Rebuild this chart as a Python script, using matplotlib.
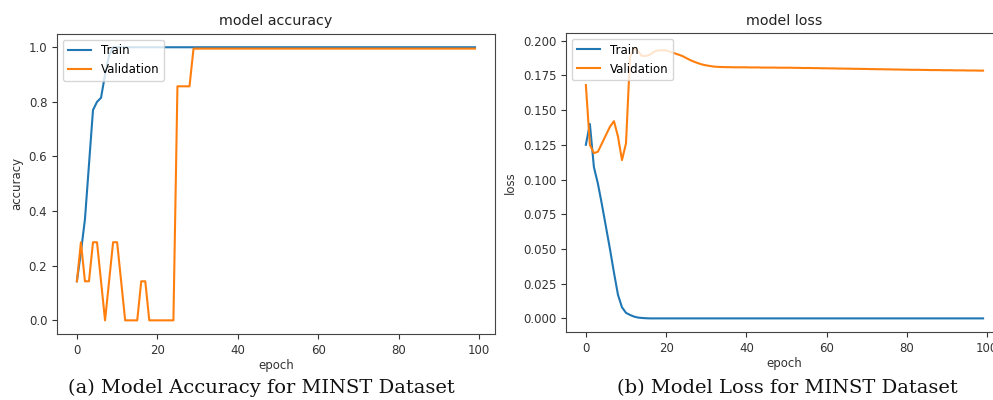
import matplotlib
matplotlib.use("Agg")
import matplotlib.pyplot as plt

# training history, one value per epoch (100 epochs)
train_acc = [0.143, 0.25, 0.37, 0.57, 0.77, 0.80, 0.815, 0.90, 0.97, 1.0,
             1.0, 1.0, 1.0, 1.0, 1.0, 1.0, 1.0, 1.0, 1.0, 1.0,
             1.0, 1.0, 1.0, 1.0, 1.0, 1.0, 1.0, 1.0, 1.0, 1.0,
             1.0, 1.0, 1.0, 1.0, 1.0, 1.0, 1.0, 1.0, 1.0, 1.0,
             1.0, 1.0, 1.0, 1.0, 1.0, 1.0, 1.0, 1.0, 1.0, 1.0,
             1.0, 1.0, 1.0, 1.0, 1.0, 1.0, 1.0, 1.0, 1.0, 1.0,
             1.0, 1.0, 1.0, 1.0, 1.0, 1.0, 1.0, 1.0, 1.0, 1.0,
             1.0, 1.0, 1.0, 1.0, 1.0, 1.0, 1.0, 1.0, 1.0, 1.0,
             1.0, 1.0, 1.0, 1.0, 1.0, 1.0, 1.0, 1.0, 1.0, 1.0,
             1.0, 1.0, 1.0, 1.0, 1.0, 1.0, 1.0, 1.0, 1.0, 1.0]

val_acc = [0.143, 0.286, 0.143, 0.143, 0.286, 0.286, 0.143, 0.0, 0.143, 0.286,
           0.286, 0.143, 0.0, 0.0, 0.0, 0.0, 0.143, 0.143, 0.0, 0.0,
           0.0, 0.0, 0.0, 0.0, 0.0, 0.857, 0.857, 0.857, 0.857, 0.995,
           0.995, 0.995, 0.995, 0.995, 0.995, 0.995, 0.995, 0.995, 0.995, 0.995,
           0.995, 0.995, 0.995, 0.995, 0.995, 0.995, 0.995, 0.995, 0.995, 0.995,
           0.995, 0.995, 0.995, 0.995, 0.995, 0.995, 0.995, 0.995, 0.995, 0.995,
           0.995, 0.995, 0.995, 0.995, 0.995, 0.995, 0.995, 0.995, 0.995, 0.995,
           0.995, 0.995, 0.995, 0.995, 0.995, 0.995, 0.995, 0.995, 0.995, 0.995,
           0.995, 0.995, 0.995, 0.995, 0.995, 0.995, 0.995, 0.995, 0.995, 0.995,
           0.995, 0.995, 0.995, 0.995, 0.995, 0.995, 0.995, 0.995, 0.995, 0.995]

train_loss = [0.125, 0.140, 0.109, 0.097, 0.082, 0.066, 0.050, 0.033, 0.017, 0.008,
              0.004, 0.0025, 0.0013, 0.0006, 0.0003, 0.0001, 0.0, 0.0, 0.0, 0.0,
              0.0, 0.0, 0.0, 0.0, 0.0, 0.0, 0.0, 0.0, 0.0, 0.0,
              0.0, 0.0, 0.0, 0.0, 0.0, 0.0, 0.0, 0.0, 0.0, 0.0,
              0.0, 0.0, 0.0, 0.0, 0.0, 0.0, 0.0, 0.0, 0.0, 0.0,
              0.0, 0.0, 0.0, 0.0, 0.0, 0.0, 0.0, 0.0, 0.0, 0.0,
              0.0, 0.0, 0.0, 0.0, 0.0, 0.0, 0.0, 0.0, 0.0, 0.0,
              0.0, 0.0, 0.0, 0.0, 0.0, 0.0, 0.0, 0.0, 0.0, 0.0,
              0.0, 0.0, 0.0, 0.0, 0.0, 0.0, 0.0, 0.0, 0.0, 0.0,
              0.0, 0.0, 0.0, 0.0, 0.0, 0.0, 0.0, 0.0, 0.0, 0.0]

val_loss = [0.168, 0.125, 0.119, 0.120, 0.126, 0.132, 0.138, 0.142, 0.131, 0.114,
            0.126, 0.188, 0.195, 0.192, 0.189, 0.189, 0.190, 0.192, 0.193, 0.193,
            0.193, 0.192, 0.191, 0.190, 0.189, 0.1875, 0.186, 0.1848, 0.1837, 0.1828,
            0.1822, 0.1817, 0.1813, 0.1811, 0.1810, 0.1809, 0.1809, 0.1808, 0.1808, 0.1808,
            0.1808, 0.1807, 0.1807, 0.1807, 0.1806, 0.1806, 0.1806, 0.1806, 0.1805, 0.1805,
            0.1805, 0.1805, 0.1804, 0.1804, 0.1803, 0.1803, 0.1803, 0.1802, 0.1802, 0.1801,
            0.1801, 0.1800, 0.1800, 0.1799, 0.1799, 0.1798, 0.1798, 0.1797, 0.1797, 0.1796,
            0.1796, 0.1795, 0.1795, 0.1794, 0.1794, 0.1793, 0.1793, 0.1792, 0.1792, 0.1791,
            0.1791, 0.1790, 0.1790, 0.1790, 0.1789, 0.1789, 0.1788, 0.1788, 0.1788, 0.1787,
            0.1787, 0.1787, 0.1786, 0.1786, 0.1786, 0.1785, 0.1785, 0.1785, 0.1784, 0.1784]

epochs = list(range(len(train_acc)))

plt.rcParams['font.size'] = 8.5
plt.rcParams['axes.edgecolor'] = '#444444'
plt.rcParams['xtick.color'] = '#333333'
plt.rcParams['ytick.color'] = '#333333'
plt.rcParams['axes.labelcolor'] = '#333333'

fig = plt.figure(figsize=(9.93, 4.0), dpi=100)

# accuracy panel
ax1 = fig.add_axes([0.0574, 0.165, 0.441, 0.751])
ax1.plot(epochs, train_acc, label='Train')
ax1.plot(epochs, val_acc, label='Validation')
ax1.set_title('model accuracy', fontsize=10.3, color='#222222')
ax1.set_xlabel('epoch', labelpad=2)
ax1.set_ylabel('accuracy')
ax1.legend(loc='upper left', fontsize=8.5)

# loss panel, runs past the right edge of the figure
ax2 = fig.add_axes([0.570, 0.170, 0.440, 0.7475])
ax2.plot(epochs, train_loss, label='Train')
ax2.plot(epochs, val_loss, label='Validation')
ax2.set_ylim(-0.0098, 0.2055)
ax2.set_title('model loss', fontsize=10.3, color='#222222')
ax2.set_xlabel('epoch', labelpad=2)
ax2.set_ylabel('loss')
ax2.legend(loc='upper left', fontsize=8.5)

fig.text(0.263, 0.03, '(a) Model Accuracy for MINST Dataset', ha='center', va='center',
         family='DejaVu Serif', fontsize=14, color='#111111')
fig.text(0.793, 0.03, '(b) Model Loss for MINST Dataset', ha='center', va='center',
         family='DejaVu Serif', fontsize=14, color='#111111')

fig.savefig('out.png', dpi=100)
